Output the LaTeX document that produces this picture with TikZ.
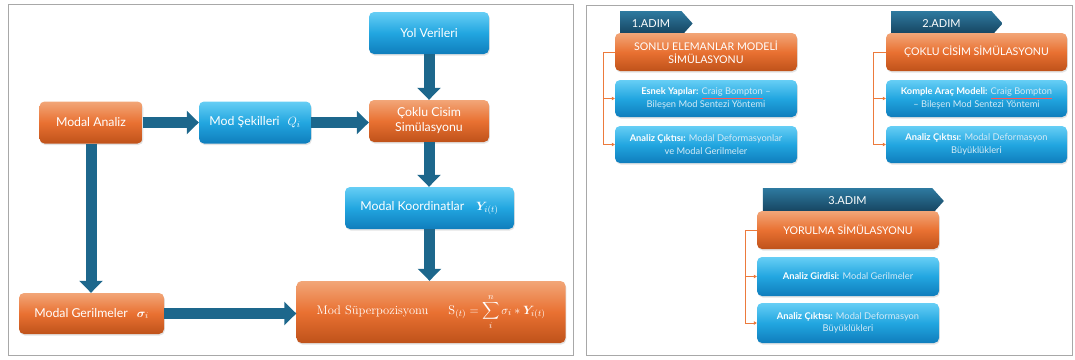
\documentclass[tikz,border=0pt]{standalone}
\usepackage{fontspec}
\setsansfont{Lato}
\usepackage{amsmath,bm}
\usetikzlibrary{arrows.meta,shapes.symbols,shadows}
\definecolor{orT}{HTML}{F2A678}
\definecolor{orM}{HTML}{E97132}
\definecolor{orB}{HTML}{BF521A}
\definecolor{blT}{HTML}{66CEF5}
\definecolor{blM}{HTML}{22A6E0}
\definecolor{blB}{HTML}{0F7DBC}
\definecolor{tbT}{HTML}{2E7AA0}
\definecolor{tbB}{HTML}{143F5A}
\definecolor{arrc}{HTML}{1D678C}
\definecolor{conc}{HTML}{EC7A3C}
\definecolor{lt}{HTML}{D3EAF6}
\definecolor{frm}{HTML}{A8A8A8}
\newcommand\spellul[1]{\textcolor{red!65}{\underline{\textcolor{lt}{#1}}}}
\begin{document}
\begin{tikzpicture}[x=1pt,y=-1pt,
  box/.style={rounded corners=5pt, align=center, text=white, font=\sffamily,
    inner sep=2pt, drop shadow={opacity=0.22, shadow xshift=0.8pt, shadow yshift=-1.5pt}},
  obox/.style={box, top color=orT, bottom color=orB, middle color=orM},
  bbox/.style={box, top color=blT, bottom color=blB, middle color=blM},
  lf/.style={font=\sffamily\fontsize{12.3}{15}\selectfont},
  bigarrow/.style={draw=arrc, line width=11pt, -{Triangle[width=23pt,length=12pt]}},
  tab/.style={signal, signal to=east, signal pointer angle=96, top color=tbT, bottom color=tbB,
    text=white, font=\sffamily\fontsize{11}{12}\selectfont, inner sep=0pt},
  head/.style={obox, font=\sffamily\fontsize{10.6}{13.5}\selectfont},
  sbox/.style={bbox, font=\sffamily\fontsize{9.3}{12.5}\selectfont},
  conn/.style={draw=conc, line width=0.9pt, -{Triangle[width=3.5pt,length=3pt]}},
  panel/.style={draw=frm, line width=0.8pt}]
\useasboundingbox (0,0) rectangle (1075,359);
% panels
\draw[panel] (8,4) rectangle (573,355);
\draw[panel] (586,5) rectangle (1072,355);
% ---- left panel ----
\node[bbox, lf, minimum width=120pt, minimum height=42pt] (yol) at (429,33) {Yol Verileri};
\node[obox, lf, minimum width=103pt, minimum height=42pt] (ma) at (91,122.5) {Modal Analiz};
\node[bbox, lf, minimum width=112pt, minimum height=42pt] (ms) at (255,122.5) {Mod Şekilleri\hspace{8pt}$Q_i$};
\node[obox, lf, minimum width=120pt, minimum height=42pt] (cc) at (429,121) {Çoklu Cisim\\Simülasyonu};
\node[bbox, lf, minimum width=169pt, minimum height=42pt] (mk) at (429.5,208) {Modal Koordinatlar\hspace{12pt}$\bm{Y}_{i(t)}$};
\node[obox, lf, minimum width=145pt, minimum height=41pt] (mg) at (91.5,313.5) {Modal Gerilmeler\hspace{9pt}$\bm{\sigma}_i$};
\node[obox, minimum width=269pt, minimum height=62pt, font=\rmfamily\fontsize{12.5}{15}\selectfont] (sup) at (431,312)
  {Mod Süperpozisyonu\hspace{20pt}$\mathrm{S}_{(t)} = \displaystyle\sum_{i}^{n}\sigma_i * \bm{Y}_{i(t)}$};
\draw[bigarrow] (yol.south) -- (cc.north);
\draw[bigarrow] (ma.east) -- (ms.west);
\draw[bigarrow] (ms.east) -- (ms.east -| cc.west);
\draw[bigarrow] (cc.south) -- (cc.south |- mk.north);
\draw[bigarrow] (mk.south) -- (mk.south |- sup.north);
\draw[bigarrow] (ma.south) -- (ma.south |- mg.north);
\draw[bigarrow] (mg.east) -- (mg.east -| sup.west);
% ---- right panel ----
% step 1
\node[tab, minimum width=72pt, minimum height=25pt] (t1) at (651,23.5) {1.ADIM};
\node[head, minimum width=182pt, minimum height=38pt] (o1) at (706,52) {SONLU ELEMANLAR MODELİ\\SİMÜLASYONU};
\node[sbox, minimum width=182pt, minimum height=37pt] (b1) at (706,98.5)
  {\textbf{Esnek Yapılar:} \spellul{Craig Bompton} \textcolor{lt}{–}\\\textcolor{lt}{Bileşen Mod Sentezi Yöntemi}};
\node[sbox, minimum width=182pt, minimum height=37pt] (b2) at (706,144.5)
  {\textbf{Analiz Çıktısı:} \textcolor{lt}{Modal Deformasyonlar}\\\textcolor{lt}{ve Modal Gerilmeler}};
\draw[conn] (o1.west) -| ([xshift=-11pt]b2.west) -- (b2.west);
\draw[conn] ([xshift=-11pt]b1.west) -- (b1.west);
% step 2
\node[tab, minimum width=111pt, minimum height=25pt] (t2) at (941.5,23.5) {2.ADIM};
\node[head, minimum width=181pt, minimum height=38pt] (o2) at (976.5,52) {ÇOKLU CİSİM SİMÜLASYONU};
\node[sbox, minimum width=181pt, minimum height=37pt] (b3) at (976.5,98.5)
  {\textbf{Komple Araç Modeli:} \spellul{Craig Bompton}\\\textcolor{lt}{– Bileşen Mod Sentezi Yöntemi}};
\node[sbox, minimum width=181pt, minimum height=37pt] (b4) at (976.5,144.5)
  {\textbf{Analiz Çıktısı:} \textcolor{lt}{Modal Deformasyon}\\\textcolor{lt}{Büyüklükleri}};
\draw[conn] (o2.west) -| ([xshift=-12pt]b4.west) -- (b4.west);
\draw[conn] ([xshift=-12pt]b3.west) -- (b3.west);
% step 3
\node[tab, minimum width=181pt, minimum height=26pt] (t3) at (847.5,201) {3.ADIM};
\node[head, minimum width=182pt, minimum height=38pt] (o3) at (848,230) {YORULMA SİMÜLASYONU};
\node[sbox, minimum width=182pt, minimum height=39pt] (b5) at (848,276.5)
  {\textbf{Analiz Girdisi:} \textcolor{lt}{Modal Gerilmeler}};
\node[sbox, minimum width=182pt, minimum height=40pt] (b6) at (848,323)
  {\textbf{Analiz Çıktısı:} \textcolor{lt}{Modal Deformasyon}\\\textcolor{lt}{Büyüklükleri}};
\draw[conn] (o3.west) -| ([xshift=-11pt]b6.west) -- (b6.west);
\draw[conn] ([xshift=-11pt]b5.west) -- (b5.west);
\end{tikzpicture}
\end{document}
